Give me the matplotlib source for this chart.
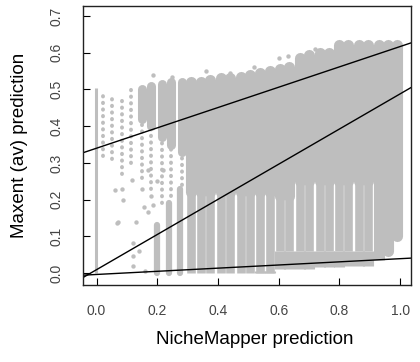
import matplotlib
matplotlib.use('Agg')
import matplotlib.pyplot as plt

plt.rcParams['font.family'] = ['Liberation Sans', 'DejaVu Sans']

gris = '#BEBEBE'

# columna de puntos en x = 0
band_x = [-0.003]
band_bot = [0.0]
band_top = [0.504]

# columnas de la parte superior izquierda (zona dispersa)
upper_x = [0.02, 0.05, 0.085, 0.115, 0.15, 0.18, 0.215, 0.245, 0.28]
upper_top = [0.49, 0.48, 0.485, 0.505, 0.50, 0.51, 0.515, 0.52, 0.52]
upper_mid = [0.49, 0.48, 0.485, 0.505, 0.42, 0.40, 0.37, 0.35, 0.33]
upper_bot = [0.32, 0.31, 0.27, 0.30, 0.26, 0.23, 0.19, 0.21, 0.24]

# franjas inferiores a la izquierda
low_x = [0.20, 0.24, 0.275]
low_top = [0.13, 0.19, 0.23]
low_bot = [0.0, 0.0, 0.0]

# columnas densas
dense_x = [0.31, 0.345, 0.375, 0.41, 0.44, 0.475, 0.505, 0.54, 0.57, 0.605, 0.635,
           0.67, 0.70, 0.735, 0.765, 0.80, 0.83, 0.865, 0.895, 0.93, 0.96, 0.99]
dense_top = [0.52, 0.52, 0.525, 0.53, 0.53, 0.535, 0.54, 0.545, 0.55, 0.555, 0.56,
             0.585, 0.595, 0.60, 0.60, 0.62, 0.62, 0.62, 0.62, 0.62, 0.62, 0.62]
dense_gap_top = [0.22, 0.22, 0.22, 0.22, 0.22, 0.22, 0.22, 0.22, 0.22, 0.21, 0.21,
                 0.25, 0.25, 0.25, 0.25, 0.25, 0.25, 0.25, 0.25, 0.10, 0.06, 0.10]
dense_gap_bot = [0.0, 0.0, 0.0, 0.0, 0.0, 0.0, 0.0, 0.0, 0.0, 0.06, 0.06,
                 0.06, 0.06, 0.06, 0.06, 0.06, 0.06, 0.06, 0.06, 0.10, 0.06, 0.10]
dense_bot = [0.0, 0.0, 0.0, 0.0, 0.0, 0.0, 0.0, 0.005, 0.005, 0.01, 0.01,
             0.01, 0.01, 0.015, 0.015, 0.015, 0.02, 0.02, 0.02, 0.035, 0.06, 0.10]

# puntos sueltos
pts_x = [0.187, 0.25, 0.44, 0.36, 0.52, 0.60, 0.63, 0.72,
         0.067, 0.083, 0.06, 0.087, 0.12, 0.12, 0.12, 0.149, 0.155, 0.17, 0.18,
         0.116, 0.071, 0.13, 0.16, 0.14, 0.186, 0.20, 0.22, 0.17]
pts_y = [0.54, 0.535, 0.545, 0.55, 0.56, 0.585, 0.59, 0.61,
         0.135, 0.23, 0.226, 0.20, 0.083, 0.045, 0.02, 0.23, 0.18, 0.165, 0.21,
         0.253, 0.14, 0.14, 0.005, 0.06, 0.185, 0.25, 0.28, 0.28]

# rectas (intercepto, pendiente)
rectas_a = [0.34, 0.009, -0.004]
rectas_b = [0.277, 0.479, 0.043]

x_ticks = [0.0, 0.2, 0.4, 0.6, 0.8, 1.0]
y_ticks = [0.0, 0.1, 0.2, 0.3, 0.4, 0.5, 0.6, 0.7]

fig = plt.figure(figsize=(4.2, 3.62), dpi=100)
ax = fig.add_axes([83 / 420, 77 / 362, 328 / 420, 279 / 362])

ax.vlines(band_x, band_bot, band_top, colors=gris, linewidth=2.2, capstyle='butt')
ax.vlines(upper_x, upper_mid, upper_top, colors=gris, linewidth=6.5, capstyle='round')
ax.vlines(upper_x, upper_bot, upper_mid, colors=gris, linewidth=2.8, capstyle='round',
          linestyles=[(0, (0.1, 1.6))])
ax.vlines(low_x, low_bot, low_top, colors=gris, linewidth=4.5, capstyle='round')
ax.vlines(dense_x, dense_gap_top, dense_top, colors=gris, linewidth=8, capstyle='round')
ax.vlines(dense_x, dense_gap_bot, dense_gap_top, colors=gris, linewidth=6.2, capstyle='butt')
ax.vlines(dense_x, dense_bot, dense_gap_bot, colors=gris, linewidth=8, capstyle='butt')
ax.scatter(pts_x, pts_y, s=10, color=gris, linewidths=0)

for a, b in zip(rectas_a, rectas_b):
    ax.axline((0, a), slope=b, color='black', linewidth=1.0)

ax.set_xlim(-0.0445, 1.036)
ax.set_ylim(-0.0327, 0.7275)
ax.set_xticks(x_ticks)
ax.set_yticks(y_ticks)
ax.set_xticklabels(['%.1f' % v for v in x_ticks])
ax.set_yticklabels(['%.1f' % v for v in y_ticks], rotation=90, va='center')
ax.tick_params(direction='in', length=5, width=0.8, labelsize=10,
               labelcolor='#444444', pad=14)
for s in ax.spines.values():
    s.set_linewidth(1.0)
    s.set_color('#222222')

fig.text(255 / 420, 1 - 340 / 362, 'NicheMapper prediction', ha='center', va='center', fontsize=13.5)
fig.text(20 / 420, 1 - 145 / 362, 'Maxent (av) prediction', ha='center', va='center',
         fontsize=13.5, rotation=90)

fig.savefig('out.png', dpi=100)
